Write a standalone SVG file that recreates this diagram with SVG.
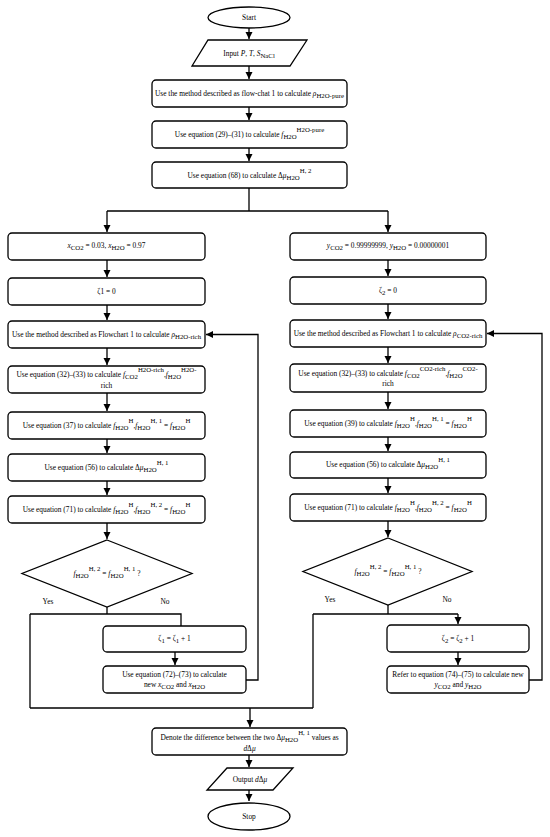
<svg xmlns="http://www.w3.org/2000/svg" width="550" height="837" viewBox="0 0 550 837">
<style>
text{font-family:"Liberation Serif","Times New Roman",serif;font-size:7.4px;fill:#000;text-anchor:middle}
.n{fill:#fff;stroke:#000;stroke-width:1.3}
.c{fill:none;stroke:#000;stroke-width:1.3}
.i{font-style:italic}
.sb{baseline-shift:-2px;font-size:6.8px}
.sp{font-size:6.8px}
</style>
<defs>
<marker id="a" markerUnits="userSpaceOnUse" markerWidth="8" markerHeight="8" refX="7" refY="4" orient="auto">
<path d="M0,0.5 L7,4 L0,7.5 z" fill="#000"/>
</marker>
</defs>
<rect width="550" height="837" fill="#fff"/>
<g id="connectors">
<path class="c" d="M249,28 V39" marker-end="url(#a)"/>
<path class="c" d="M249,66 V79" marker-end="url(#a)"/>
<path class="c" d="M249,107 V120" marker-end="url(#a)"/>
<path class="c" d="M249,148 V161" marker-end="url(#a)"/>
<path class="c" d="M249,188 V211 M107,211 H388"/>
<path class="c" d="M107,211 V232" marker-end="url(#a)"/>
<path class="c" d="M388,211 V232" marker-end="url(#a)"/>
<path class="c" d="M107,260 V277" marker-end="url(#a)"/>
<path class="c" d="M107,305 V320" marker-end="url(#a)"/>
<path class="c" d="M107,348 V365" marker-end="url(#a)"/>
<path class="c" d="M107,393 V411" marker-end="url(#a)"/>
<path class="c" d="M107,439 V453" marker-end="url(#a)"/>
<path class="c" d="M107,481 V495" marker-end="url(#a)"/>
<path class="c" d="M107,523 V539" marker-end="url(#a)"/>
<path class="c" d="M388,260 V276" marker-end="url(#a)"/>
<path class="c" d="M388,304 V319" marker-end="url(#a)"/>
<path class="c" d="M388,347 V363" marker-end="url(#a)"/>
<path class="c" d="M388,392 V409" marker-end="url(#a)"/>
<path class="c" d="M388,437 V451" marker-end="url(#a)"/>
<path class="c" d="M388,478 V493" marker-end="url(#a)"/>
<path class="c" d="M388,521 V537" marker-end="url(#a)"/>
<path class="c" d="M107,607 V614 M30,614 H181 V626 M30,614 V708"/>
<path class="c" d="M175,652 V665" marker-end="url(#a)"/>
<path class="c" d="M246,680 H258 V334.5 H206" marker-end="url(#a)"/>
<path class="c" d="M388,605 V614 M313,614 H458 M313,614 V708"/>
<path class="c" d="M458,614 V624" marker-end="url(#a)"/>
<path class="c" d="M458,652 V665" marker-end="url(#a)"/>
<path class="c" d="M529,680 H542 V333.5 H487" marker-end="url(#a)"/>
<path class="c" d="M30,708 H313"/>
<path class="c" d="M250,708 V727" marker-end="url(#a)"/>
<path class="c" d="M249,755 V767" marker-end="url(#a)"/>
<path class="c" d="M249,790 V801" marker-end="url(#a)"/>
</g>
<g id="start"><ellipse class="n" cx="249" cy="17.5" rx="41" ry="10.5"/><text x="249" y="20">Start</text></g>
<g id="input"><polygon class="n" points="208,40 307,40 290,66 192,66"/><text x="249" y="56">Input <tspan class="i">P</tspan>, <tspan class="i">T</tspan>, <tspan class="i">S</tspan><tspan class="sb">NaCl</tspan></text></g>
<g id="b1"><rect class="n" x="152" y="80" width="195" height="27" rx="4"/><text x="249.5" y="96">Use the method described as flow-chat 1 to calculate <tspan class="i">ρ</tspan><tspan class="sb">H2O-pure</tspan></text></g>
<g id="b2"><rect class="n" x="152" y="121" width="195" height="27" rx="4"/><text x="249.5" y="137">Use equation (29)–(31) to calculate <tspan class="i">f</tspan><tspan class="sb">H2O</tspan><tspan class="sp" baseline-shift="5px">H2O-pure</tspan></text></g>
<g id="b3"><rect class="n" x="152" y="162" width="195" height="26" rx="4"/><text x="249.5" y="178">Use equation (68) to calculate Δ<tspan class="i">μ</tspan><tspan class="sb">H2O</tspan><tspan class="sp" baseline-shift="5px">H, 2</tspan></text></g>

<g id="l1"><rect class="n" x="8" y="233" width="197" height="27" rx="4"/><text x="106.5" y="248"><tspan class="i">x</tspan><tspan class="sb">CO2</tspan> = 0.03, <tspan class="i">x</tspan><tspan class="sb">H2O</tspan> = 0.97</text></g>
<g id="l2"><rect class="n" x="8" y="278" width="197" height="27" rx="4"/><text x="106.5" y="294">ζ1 = 0</text></g>
<g id="l3"><rect class="n" x="8" y="321" width="197" height="27" rx="4"/><text x="106.5" y="337">Use the method described as Flowchart 1 to calculate <tspan class="i">ρ</tspan><tspan class="sb">H2O-rich</tspan></text></g>
<g id="l4"><rect class="n" x="8" y="366" width="197" height="27" rx="4"/><text x="106.5" y="377">Use equation (32)–(33) to calculate <tspan class="i">f</tspan><tspan class="sb">CO2</tspan><tspan class="sp" baseline-shift="5px">H2O-rich</tspan>,<tspan class="i">f</tspan><tspan class="sb">H2O</tspan><tspan class="sp" baseline-shift="5px">H2O-</tspan></text><text x="106.5" y="388">rich</text></g>
<g id="l5"><rect class="n" x="8" y="412" width="197" height="27" rx="4"/><text x="106.5" y="428">Use equation (37) to calculate <tspan class="i">f</tspan><tspan class="sb">H2O</tspan><tspan class="sp" baseline-shift="5px">H</tspan>,<tspan class="i">f</tspan><tspan class="sb">H2O</tspan><tspan class="sp" baseline-shift="5px">H, 1</tspan> = <tspan class="i">f</tspan><tspan class="sb">H2O</tspan><tspan class="sp" baseline-shift="5px">H</tspan></text></g>
<g id="l6"><rect class="n" x="8" y="454" width="197" height="27" rx="4"/><text x="106.5" y="470">Use equation (56) to calculate  Δ<tspan class="i">μ</tspan><tspan class="sb">H2O</tspan><tspan class="sp" baseline-shift="5px">H, 1</tspan></text></g>
<g id="l7"><rect class="n" x="8" y="496" width="197" height="27" rx="4"/><text x="106.5" y="512">Use equation (71) to calculate <tspan class="i">f</tspan><tspan class="sb">H2O</tspan><tspan class="sp" baseline-shift="5px">H</tspan>,<tspan class="i">f</tspan><tspan class="sb">H2O</tspan><tspan class="sp" baseline-shift="5px">H, 2</tspan> = <tspan class="i">f</tspan><tspan class="sb">H2O</tspan><tspan class="sp" baseline-shift="5px">H</tspan></text></g>
<g id="l-decision"><polygon class="n" points="107,540 192,573.5 107,607 22,573.5"/><text x="107" y="576"><tspan class="i">f</tspan><tspan class="sb">H2O</tspan><tspan class="sp" baseline-shift="5px">H, 2</tspan> = <tspan class="i">f</tspan><tspan class="sb">H2O</tspan><tspan class="sp" baseline-shift="5px">H, 1</tspan> ?</text></g>
<g id="l-labels"><text x="48" y="604">Yes</text><text x="165" y="604">No</text></g>
<g id="l8"><rect class="n" x="103" y="626" width="143" height="26" rx="4"/><text x="174.5" y="641">ζ<tspan class="sb">1</tspan> = ζ<tspan class="sb">1</tspan> + 1</text></g>
<g id="l9"><rect class="n" x="103" y="666" width="143" height="27" rx="4"/><text x="174.5" y="677">Use equation (72)–(73) to calculate</text><text x="174.5" y="687">new <tspan class="i">x</tspan><tspan class="sb">CO2</tspan> and <tspan class="i">x</tspan><tspan class="sb">H2O</tspan></text></g>

<g id="r1"><rect class="n" x="290" y="233" width="196" height="27" rx="4"/><text x="388" y="248"><tspan class="i">y</tspan><tspan class="sb">CO2</tspan> = 0.99999999, <tspan class="i">y</tspan><tspan class="sb">H2O</tspan> = 0.00000001</text></g>
<g id="r2"><rect class="n" x="290" y="277" width="196" height="27" rx="4"/><text x="388" y="293">ζ<tspan class="sb">2</tspan> = 0</text></g>
<g id="r3"><rect class="n" x="290" y="320" width="196" height="27" rx="4"/><text x="388" y="336">Use the method described as Flowchart 1 to calculate <tspan class="i">ρ</tspan><tspan class="sb">CO2-rich</tspan></text></g>
<g id="r4"><rect class="n" x="290" y="364" width="196" height="28" rx="4"/><text x="388" y="376">Use equation (32)–(33) to calculate <tspan class="i">f</tspan><tspan class="sb">CO2</tspan><tspan class="sp" baseline-shift="5px">CO2-rich</tspan>,<tspan class="i">f</tspan><tspan class="sb">H2O</tspan><tspan class="sp" baseline-shift="5px">CO2-</tspan></text><text x="388" y="386">rich</text></g>
<g id="r5"><rect class="n" x="290" y="410" width="196" height="27" rx="4"/><text x="388" y="426">Use equation (39) to calculate <tspan class="i">f</tspan><tspan class="sb">H2O</tspan><tspan class="sp" baseline-shift="5px">H</tspan>,<tspan class="i">f</tspan><tspan class="sb">H2O</tspan><tspan class="sp" baseline-shift="5px">H, 1</tspan> = <tspan class="i">f</tspan><tspan class="sb">H2O</tspan><tspan class="sp" baseline-shift="5px">H</tspan></text></g>
<g id="r6"><rect class="n" x="290" y="452" width="196" height="26" rx="4"/><text x="388" y="467">Use equation (56) to calculate  Δ<tspan class="i">μ</tspan><tspan class="sb">H2O</tspan><tspan class="sp" baseline-shift="5px">H, 1</tspan></text></g>
<g id="r7"><rect class="n" x="290" y="494" width="196" height="27" rx="4"/><text x="388" y="510">Use equation (71) to calculate <tspan class="i">f</tspan><tspan class="sb">H2O</tspan><tspan class="sp" baseline-shift="5px">H</tspan>,<tspan class="i">f</tspan><tspan class="sb">H2O</tspan><tspan class="sp" baseline-shift="5px">H, 2</tspan> = <tspan class="i">f</tspan><tspan class="sb">H2O</tspan><tspan class="sp" baseline-shift="5px">H</tspan></text></g>
<g id="r-decision"><polygon class="n" points="388,538 472,571.5 388,605 303,571.5"/><text x="388" y="574"><tspan class="i">f</tspan><tspan class="sb">H2O</tspan><tspan class="sp" baseline-shift="5px">H, 2</tspan> = <tspan class="i">f</tspan><tspan class="sb">H2O</tspan><tspan class="sp" baseline-shift="5px">H, 1</tspan> ?</text></g>
<g id="r-labels"><text x="330" y="602">Yes</text><text x="447" y="602">No</text></g>
<g id="r8"><rect class="n" x="387" y="625" width="142" height="27" rx="4"/><text x="458" y="641">ζ<tspan class="sb">2</tspan> = ζ<tspan class="sb">2</tspan> + 1</text></g>
<g id="r9"><rect class="n" x="387" y="666" width="142" height="27" rx="4"/><text x="458" y="677">Refer to equation (74)–(75) to calculate new</text><text x="458" y="687"><tspan class="i">y</tspan><tspan class="sb">CO2</tspan> and <tspan class="i">y</tspan><tspan class="sb">H2O</tspan></text></g>

<g id="denote"><rect class="n" x="152" y="728" width="195" height="27" rx="4"/><text x="249.5" y="740">Denote the difference between the two Δ<tspan class="i">μ</tspan><tspan class="sb">H2O</tspan><tspan class="sp" baseline-shift="5px">H, 1</tspan> values as</text><text x="249.5" y="751"><tspan class="i">d</tspan>Δ<tspan class="i">μ</tspan></text></g>
<g id="output"><polygon class="n" points="227,768 293,768 273,790 207,790"/><text x="250" y="782">Output <tspan class="i">d</tspan>Δ<tspan class="i">μ</tspan></text></g>
<g id="stop"><ellipse class="n" cx="249" cy="816.5" rx="41" ry="13.5"/><text x="249" y="819">Stop</text></g>
</svg>
